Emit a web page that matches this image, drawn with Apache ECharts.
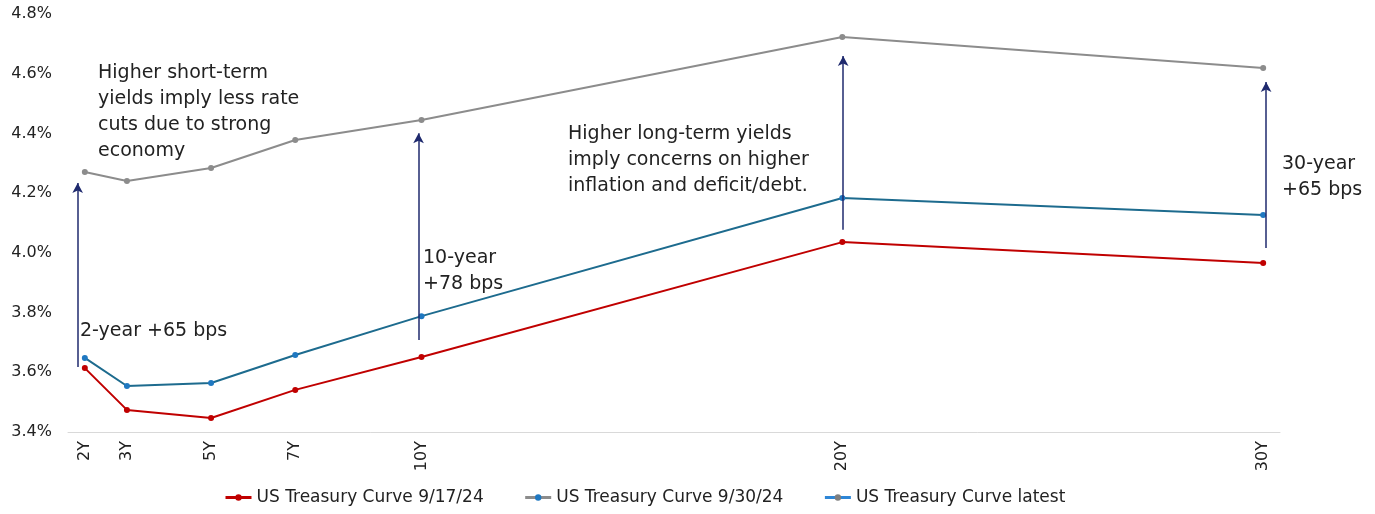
<!DOCTYPE html>
<html>
<head>
<meta charset="utf-8">
<script src="https://cdn.jsdelivr.net/npm/echarts@6/dist/echarts.min.js"></script>
<style>
  html, body { margin: 0; padding: 0; background: #fff; }
  #chart { width: 1375px; height: 514px; }
</style>
</head>
<body>
<div id="chart"></div>
<script>
// maturities in years
const maturities = [2, 3, 5, 7, 10, 20, 30]
const tickLabels = ['2Y', '3Y', '5Y', '7Y', '10Y', '20Y', '30Y']
const seriesNames = ['US Treasury Curve 9/17/24', 'US Treasury Curve 9/30/24', 'US Treasury Curve latest']

const curve0917 = [3.614, 3.474, 3.447, 3.541, 3.651, 4.036, 3.966]
const curve0930 = [3.648, 3.554, 3.564, 3.658, 3.788, 4.184, 4.127]
const curveLatest = [4.271, 4.241, 4.284, 4.378, 4.445, 4.723, 4.619]

// arrows: [maturity, from, to]
const arrows = [
  [1.83, 3.618, 4.234],
  [9.93, 3.708, 4.401],
  [20.02, 4.077, 4.659],
  [30.07, 4.016, 4.572]
]

const font = 'DejaVu Sans'
const pair = (vals) => vals.map((v, i) => [maturities[i], v])

const chart = echarts.init(document.getElementById('chart'))

const option = {
  animation: false,
  textStyle: { fontFamily: font },
  grid: { left: 68, right: 95, top: 14, bottom: 82 },
  xAxis: {
    type: 'value',
    min: 1.6,
    max: 30.4,
    splitLine: { show: false },
    axisLine: { show: true, lineStyle: { color: '#d9d9d9', width: 1 } },
    axisTick: { show: false },
    axisLabel: {
      customValues: maturities,
      rotate: 90,
      margin: 9,
      fontSize: 16,
      color: '#222',
      fontFamily: font,
      formatter: function(value) {
        const i = maturities.indexOf(value)
        return i >= 0 ? tickLabels[i] : ''
      }
    }
  },
  yAxis: {
    type: 'value',
    min: 3.4,
    max: 4.8,
    interval: 0.2,
    splitLine: { show: false },
    axisLine: { show: false },
    axisTick: { show: false },
    axisLabel: {
      fontSize: 16,
      color: '#222',
      fontFamily: font,
      margin: 16,
      align: 'right',
      formatter: function(value) {
        return value.toFixed(1) + '%'
      }
    }
  },
  legend: {
    left: 219,
    bottom: 3,
    itemWidth: 26,
    itemHeight: 8,
    itemGap: 40,
    textStyle: { fontSize: 17, color: '#222', fontFamily: font },
    data: [
      { name: seriesNames[0], lineStyle: { width: 3 } },
      { name: seriesNames[1], itemStyle: { color: '#1f78c1' }, lineStyle: { color: '#8c8c8c', width: 3 } },
      { name: seriesNames[2], itemStyle: { color: '#7f7f7f' }, lineStyle: { color: '#2e86d6', width: 3 } }
    ]
  },
  series: [
    {
      name: seriesNames[0],
      type: 'line',
      data: pair(curve0917),
      symbol: 'circle',
      symbolSize: 6,
      itemStyle: { color: '#c00000' },
      lineStyle: { color: '#c00000', width: 2 }
    },
    {
      name: seriesNames[1],
      type: 'line',
      data: pair(curve0930),
      symbol: 'circle',
      symbolSize: 6,
      itemStyle: { color: '#1f78c1' },
      lineStyle: { color: '#1d6b8e', width: 2 }
    },
    {
      name: seriesNames[2],
      type: 'line',
      data: pair(curveLatest),
      symbol: 'circle',
      symbolSize: 6,
      itemStyle: { color: '#8c8c8c' },
      lineStyle: { color: '#8c8c8c', width: 2 },
      markLine: {
        silent: true,
        symbol: ['none', 'arrow'],
        symbolSize: [8, 10],
        label: { show: false },
        lineStyle: { color: '#1f2a6e', width: 1.5, type: 'solid' },
        data: arrows.map(a => [{ coord: [a[0], a[1]] }, { coord: [a[0], a[2]] }])
      }
    }
  ],
  graphic: [
    { type: 'text', left: 98, top: 60, style: { text: 'Higher short-term\nyields imply less rate\ncuts due to strong\neconomy', fontSize: 19, lineHeight: 26, fill: '#222', fontFamily: font } },
    { type: 'text', left: 568, top: 121, style: { text: 'Higher long-term yields\nimply concerns on higher\ninflation and deficit/debt.', fontSize: 19, lineHeight: 26, fill: '#222', fontFamily: font } },
    { type: 'text', left: 80, top: 322, style: { text: '2-year +65 bps', fontSize: 19, fill: '#222', fontFamily: font } },
    { type: 'text', left: 423, top: 245, style: { text: '10-year\n+78 bps', fontSize: 19, lineHeight: 26, fill: '#222', fontFamily: font } },
    { type: 'text', left: 1282, top: 151, style: { text: '30-year\n+65 bps', fontSize: 19, lineHeight: 26, fill: '#222', fontFamily: font } }
  ]
}

chart.setOption(option)
window.addEventListener('resize', function() {
  chart.resize()
})
</script>
</body>
</html>
